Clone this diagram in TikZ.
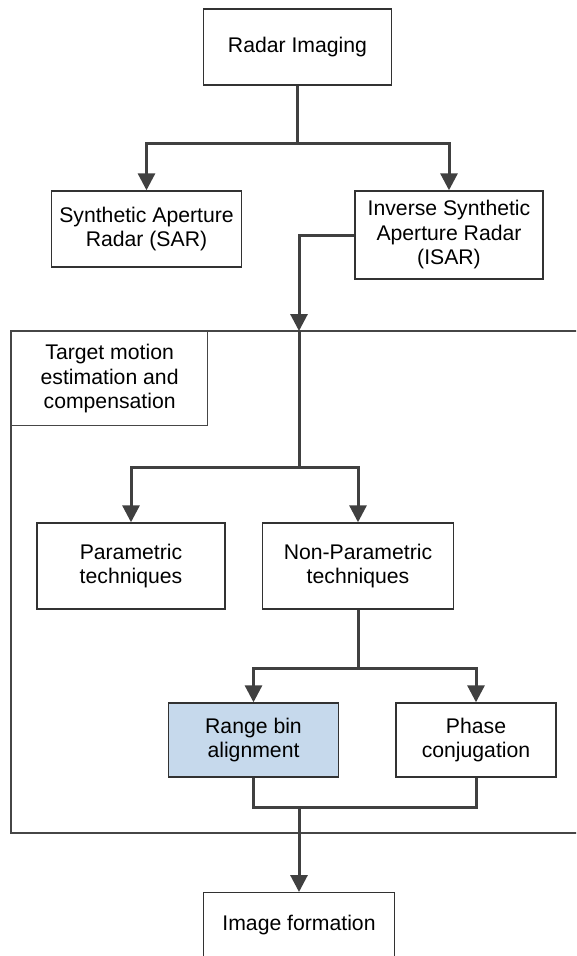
\documentclass[tikz,border=0pt]{standalone}
\usepackage{fontspec}
\setmainfont{Liberation Sans}
\usetikzlibrary{arrows.meta}
\definecolor{linegray}{RGB}{64,64,64}
\definecolor{boxgray}{RGB}{50,50,50}
\definecolor{framegray}{RGB}{70,70,70}
\definecolor{boxblue}{RGB}{198,217,236}
\begin{document}
\begin{tikzpicture}[x=1pt,y=-1pt,
  box/.style={draw=boxgray, line width=1.4pt, align=center,
    font=\fontsize{21.2}{24.5}\selectfont, inner sep=0pt},
  conn/.style={draw=linegray, line width=3pt},
  arr/.style={conn, -{Triangle[width=17pt,length=17pt]}},
  framestyle/.style={draw=framegray, line width=1.3pt}
]
\useasboundingbox (0,0) rectangle (576,956);
\clip (0,0) rectangle (576,956);

% outer frame (extends beyond the right edge)
\draw[framestyle] (11,331) rectangle (640,833);

\node[box, minimum width=188pt, minimum height=76pt] (radar) at (297.5,47) {Radar Imaging};
\node[box, minimum width=190pt, minimum height=76pt] (sar) at (146.5,229) {Synthetic Aperture\\Radar (SAR)};
\node[box, minimum width=188pt, minimum height=88pt] (isar) at (449,235) {Inverse Synthetic\\Aperture Radar\\(ISAR)};
\node[box, draw=framegray, line width=1.3pt, anchor=north west, minimum width=196pt, minimum height=94pt] (target) at (11,331) {Target motion\\estimation and\\compensation};
\node[box, minimum width=188pt, minimum height=86pt] (param) at (131,566) {Parametric\\techniques};
\node[box, minimum width=191pt, minimum height=86pt] (nonparam) at (358,566) {Non-Parametric\\techniques};
\node[box, fill=boxblue, minimum width=170pt, minimum height=74pt] (range) at (253.5,740) {Range bin\\alignment};
\node[box, minimum width=160pt, minimum height=74pt] (phase) at (476,740) {Phase\\conjugation};
\node[box, anchor=north, minimum width=191pt, text height=15pt, text depth=60pt, inner ysep=23pt] (image) at (299,892) {Image formation};

\coordinate (j1) at (297.5,143);
\coordinate (ftop) at (299,331);
\coordinate (j2) at (299,467);
\coordinate (j3) at (358,668);
\coordinate (j4) at (299,807);

\draw[conn] (radar.south) -- (j1);
\draw[arr] (j1) -| (sar.north);
\draw[arr] (j1) -| (isar.north);
\draw[arr] (isar.west) -| (ftop);
\draw[conn] (ftop) -- (j2);
\draw[arr] (j2) -| (param.north);
\draw[arr] (j2) -| (nonparam.north);
\draw[conn] (nonparam.south) -- (j3);
\draw[arr] (j3) -| (range.north);
\draw[arr] (j3) -| (phase.north);
\draw[conn] (range.south) |- (j4) -| (phase.south);
\draw[arr] (j4) -- (image.north);
\end{tikzpicture}
\end{document}
